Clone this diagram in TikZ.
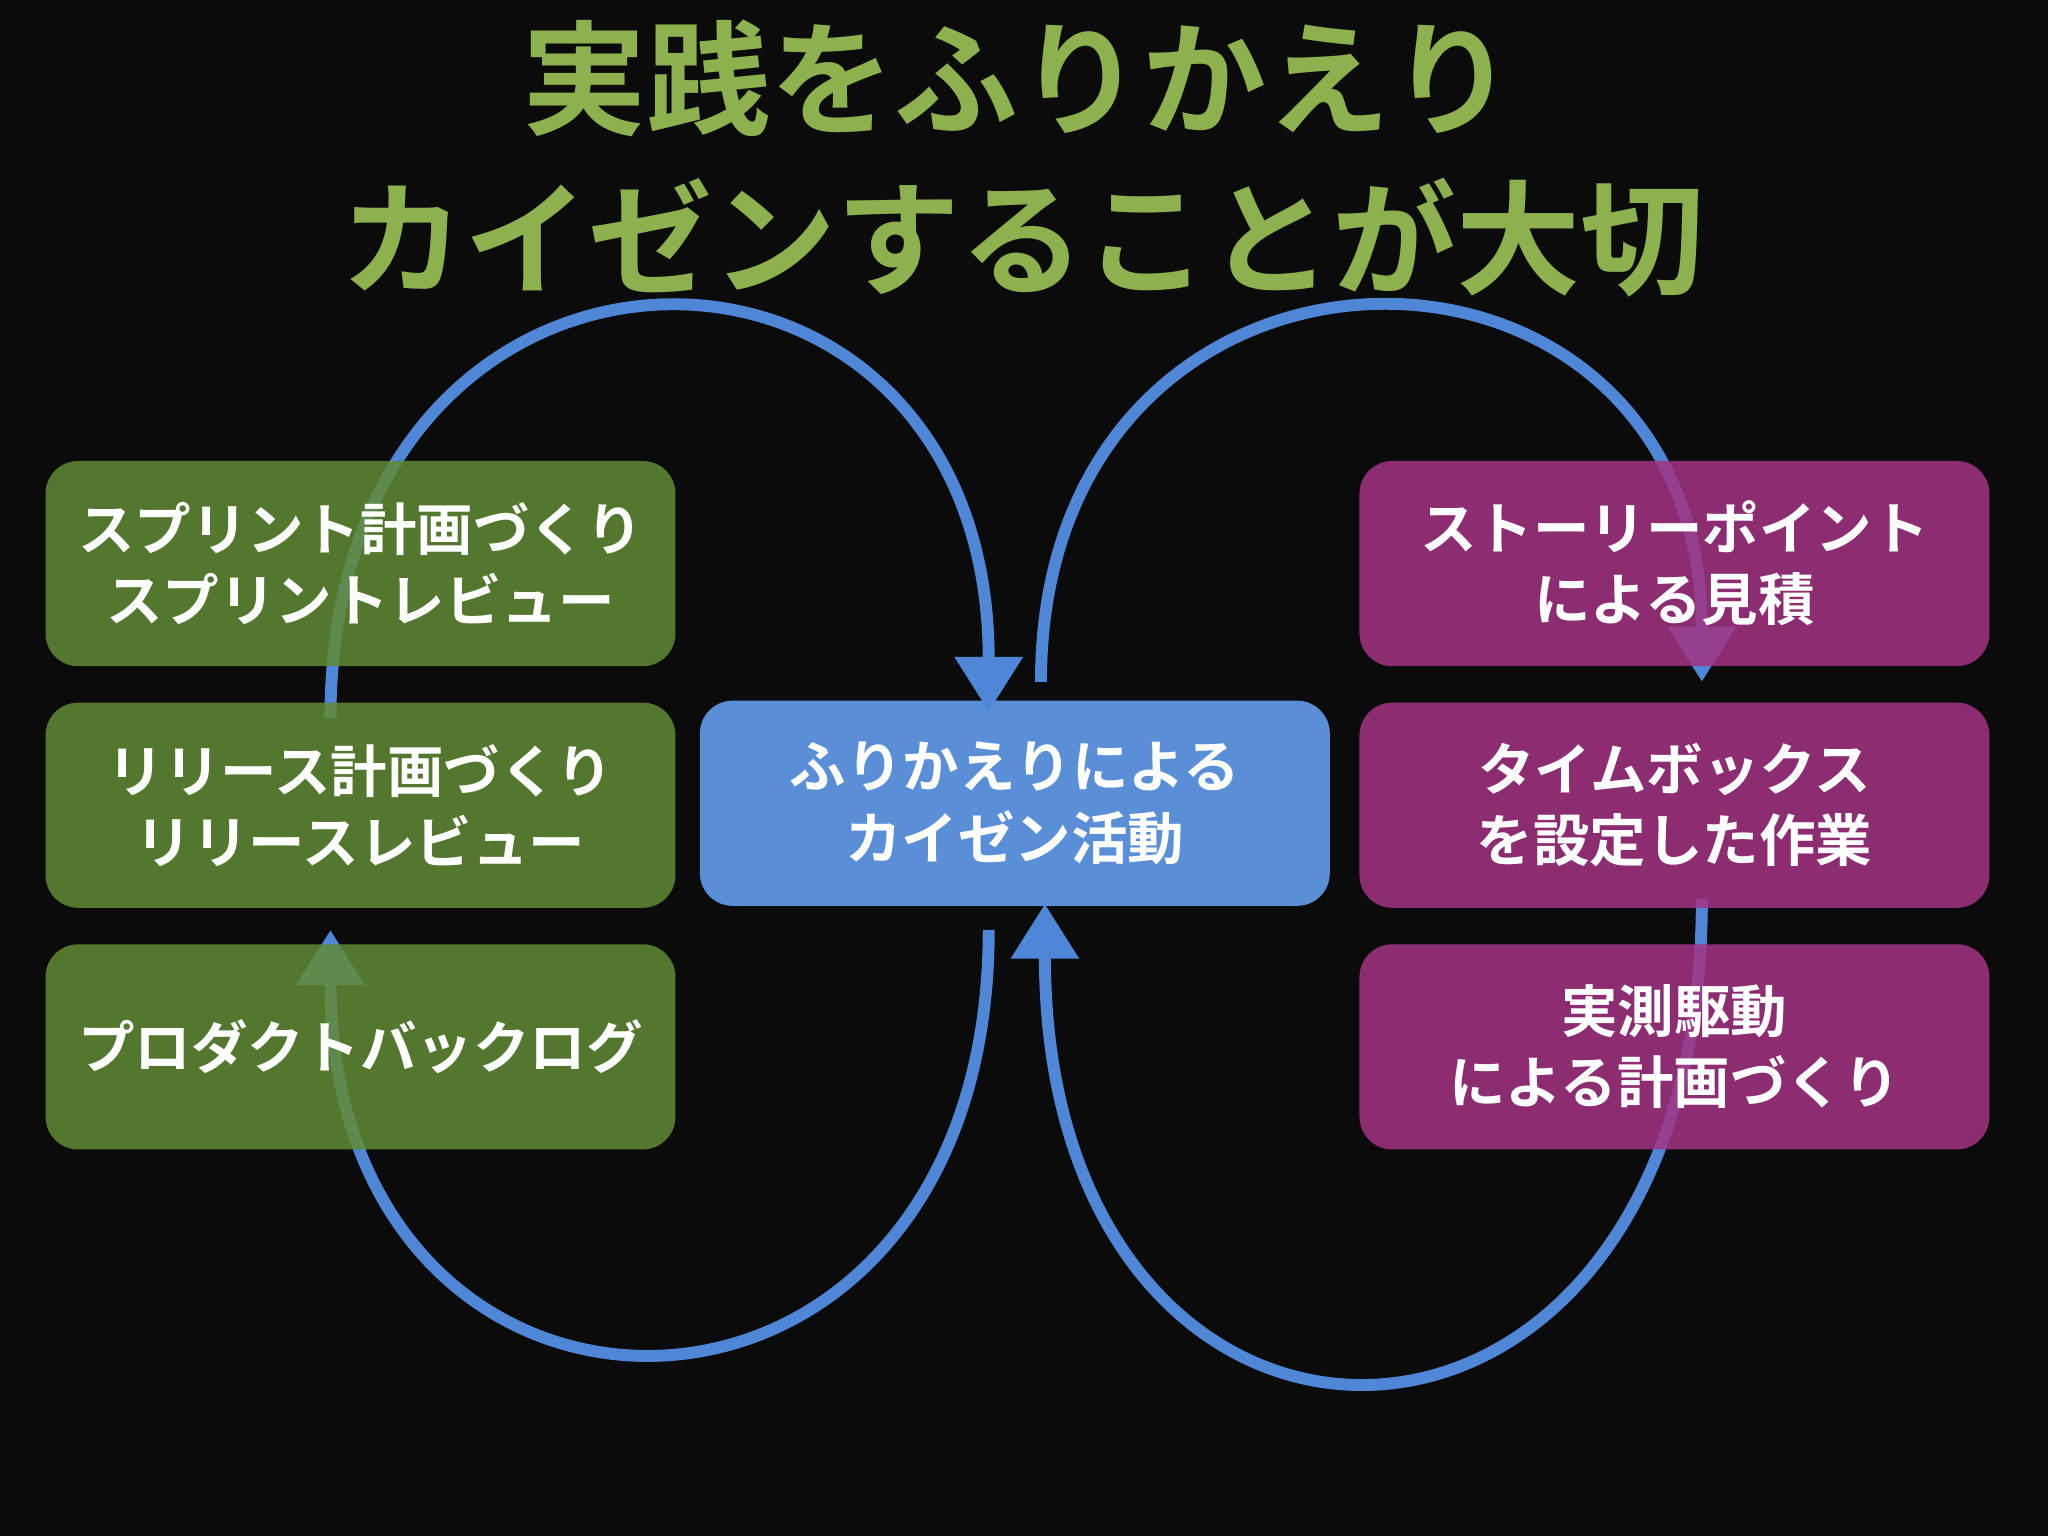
\documentclass[tikz,border=0pt]{standalone}
\usepackage{fontspec}
\setmainfont{Noto Sans CJK JP}[BoldFont={Noto Sans CJK JP}, BoldFeatures={FakeBold=2}]
\newfontfamily\jp{Noto Sans CJK JP Bold}
\usetikzlibrary{arrows.meta}
\definecolor{bg}{HTML}{0B0B0B}
\definecolor{ttl}{HTML}{8DB14F}
\definecolor{gbox}{HTML}{618B36}
\definecolor{bbox}{HTML}{5A8FD8}
\definecolor{mbox}{HTML}{A33383}
\definecolor{loop}{HTML}{4F86D6}
\tikzset{
 box/.style={rounded corners=0.25cm, minimum width=4.82cm, minimum height=1.57cm, text=white, align=center, font=\jp\fontsize{12.3}{15.5}\selectfont, inner sep=0pt},
 gb/.style={box, fill=gbox, fill opacity=0.85, text opacity=1},
 mb/.style={box, fill=mbox, fill opacity=0.85, text opacity=1},
 lp/.style={draw=loop, line width=2.6pt, -{Triangle[width=0.5cm,length=0.42cm]}},
 ttlf/.style={text=ttl, font=\jp\fontsize{27}{32}\selectfont}
}
\begin{document}
\begin{tikzpicture}[x=0.01cm,y=-0.01cm]
\fill[bg] (0,0) rectangle (1568,1176);
\useasboundingbox (0,0) rectangle (1568,1176);
\node[ttlf] (t1) at (780,60) {実践をふりかえり};
\node[ttlf] (t2) at (783,182) {カイゼンすることが大切};
\node[box, fill=bbox] (c) at (777,615) {ふりかえりによる\\カイゼン活動};
\coordinate (l1) at (253,550); \coordinate (l2) at (757,545);
\coordinate (l3) at (757,712); \coordinate (l4) at (253,712);
\coordinate (r1) at (797,522); \coordinate (r2) at (1303,522);
\coordinate (r3) at (1303,688); \coordinate (r4) at (800,692);
\draw[lp] (l1) .. controls (253,135) and (757,135) .. (l2);
\draw[lp] (l3) .. controls (757,1140) and (253,1140) .. (l4);
\draw[lp] (r1) .. controls (797,143) and (1303,143) .. (r2);
\draw[lp] (r3) .. controls (1303,1177) and (800,1177) .. (r4);
\node[gb] (g1) at (276,431.5) {スプリント計画づくり\\スプリントレビュー};
\node[gb] (g2) at (276,616.5) {リリース計画づくり\\リリースレビュー};
\node[gb] (g3) at (276,801.5) {プロダクトバックログ};
\node[mb] (m1) at (1282,431.5) {ストーリーポイント\\による見積};
\node[mb] (m2) at (1282,616.5) {タイムボックス\\を設定した作業};
\node[mb] (m3) at (1282,801.5) {実測駆動\\による計画づくり};
\end{tikzpicture}
\end{document}
